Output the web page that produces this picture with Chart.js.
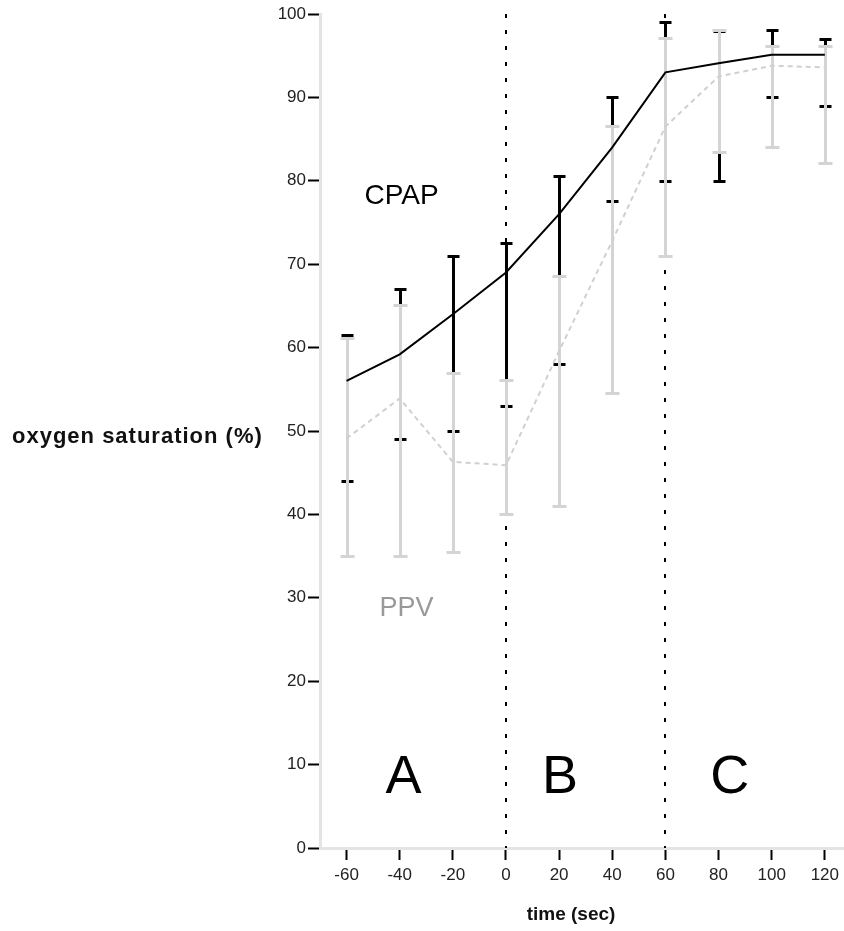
<!DOCTYPE html>
<html>
<head>
<meta charset="utf-8">
<script src="https://cdn.jsdelivr.net/npm/chart.js@4.4.0/dist/chart.umd.min.js"></script>
<style>
  html, body { margin: 0; padding: 0; background: #fff; }
  #wrap { width: 844px; height: 931px; position: relative; }
</style>
</head>
<body>
<div id="wrap"><canvas id="sat"></canvas></div>
<script>
// time points (sec) and tick labels
let times = [-60, -40, -20, 0, 20, 40, 60, 80, 100, 120]
let xTicks = [-60, -40, -20, 0, 20, 40, 60, 80, 100, 120]
let yTicks = [0, 10, 20, 30, 40, 50, 60, 70, 80, 90, 100]
let phaseMarks = [0, 60]

// CPAP (black)
let cpapMean = [56, 59.2, 64, 69, 76, 84, 93, 94.1, 95.1, 95.1]
let cpapLow = [44, 49, 50, 53, 58, 77.6, 80, 80, 90, 89]
let cpapHigh = [61.5, 67, 71, 72.5, 80.6, 90, 99, 98, 98.1, 97]

// PPV (grey)
let ppvMean = [49.1, 53.9, 46.3, 45.9, 59.6, 72.8, 86.5, 92.5, 93.8, 93.6]
let ppvLow = [35, 35, 35.5, 40.1, 41, 54.6, 71, 83.5, 84.1, 82.1]
let ppvHigh = [61.1, 65.1, 57, 56.1, 68.6, 86.6, 97.1, 98.1, 96.2, 96.2]

const FONT = "'Liberation Sans', Arial, sans-serif"
const GREY = '#d4d4d4'

const pts = (vals) => times.map((t, i) => ({ x: t, y: vals[i] }))

// dotted phase lines + error bars, under the mean lines
const errorBars = {
    id: 'errorBars',
    beforeDatasetsDraw(chart) {
        const { ctx, scales: { x, y } } = chart
        ctx.save()
        ctx.strokeStyle = '#000'
        ctx.lineWidth = 2
        ctx.setLineDash([4, 12])
        phaseMarks.forEach(v => {
            const px = Math.round(x.getPixelForValue(v))
            ctx.beginPath()
            ctx.moveTo(px, y.getPixelForValue(100))
            ctx.lineTo(px, y.getPixelForValue(0))
            ctx.stroke()
        })
        ctx.setLineDash([])

        const bars = (low, high, color, cap) => {
            ctx.strokeStyle = color
            ctx.lineWidth = 3
            times.forEach((t, i) => {
                const px = Math.round(x.getPixelForValue(t)) + 0.5
                const lo = Math.round(y.getPixelForValue(low[i])) + 0.5
                const hi = Math.round(y.getPixelForValue(high[i])) + 0.5
                ctx.beginPath()
                ctx.moveTo(px, lo)
                ctx.lineTo(px, hi)
                ctx.moveTo(px - cap / 2, lo)
                ctx.lineTo(px + cap / 2, lo)
                ctx.moveTo(px - cap / 2, hi)
                ctx.lineTo(px + cap / 2, hi)
                ctx.stroke()
            })
        }
        bars(cpapLow, cpapHigh, '#000', 12)
        bars(ppvLow, ppvHigh, GREY, 14)
        ctx.restore()
    }
}

// group labels, phase letters and axis titles
const labels = {
    id: 'labels',
    afterDraw(chart) {
        const { ctx, chartArea, scales: { x, y } } = chart
        ctx.save()
        ctx.textAlign = 'center'
        ctx.textBaseline = 'middle'

        ctx.font = '28px ' + FONT
        ctx.fillStyle = '#000'
        ctx.fillText('CPAP', x.getPixelForValue(-39.3), y.getPixelForValue(78.2))
        ctx.font = '27px ' + FONT
        ctx.fillStyle = '#999'
        ctx.fillText('PPV', x.getPixelForValue(-37.4), y.getPixelForValue(28.7))

        ctx.font = '54px ' + FONT
        ctx.fillStyle = '#000'
        ctx.fillText('A', x.getPixelForValue(-38.6), y.getPixelForValue(8.4))
        ctx.fillText('B', x.getPixelForValue(20.3), y.getPixelForValue(8.4))
        ctx.fillText('C', x.getPixelForValue(84.2), y.getPixelForValue(8.4))

        ctx.fillStyle = '#111'
        ctx.font = 'bold 22px ' + FONT
        ctx.letterSpacing = '1px'
        ctx.textAlign = 'left'
        ctx.fillText('oxygen saturation (%)', 12, (chartArea.top + chartArea.bottom) / 2 + 6)
        ctx.font = 'bold 19px ' + FONT
        ctx.letterSpacing = '0px'
        ctx.textAlign = 'center'
        ctx.fillText('time (sec)', 571, 915)
        ctx.restore()
    }
}

const chart = new Chart(document.getElementById('sat'), {
    type: 'line',
    data: {
        datasets: [
            {
                label: 'CPAP',
                data: pts(cpapMean),
                borderColor: '#000',
                borderWidth: 2,
                pointRadius: 0,
                tension: 0
            },
            {
                label: 'PPV',
                data: pts(ppvMean),
                borderColor: '#d0d0d0',
                borderWidth: 2,
                borderDash: [5, 4],
                pointRadius: 0,
                tension: 0
            }
        ]
    },
    options: {
        responsive: true,
        maintainAspectRatio: false,
        animation: false,
        layout: { padding: { top: 14, right: 0, left: 0, bottom: 0 } },
        plugins: {
            legend: { display: false },
            tooltip: { enabled: false }
        },
        scales: {
            x: {
                type: 'linear',
                min: -70,
                max: 127,
                afterBuildTicks: axis => { axis.ticks = xTicks.map(v => ({ value: v })) },
                afterFit: axis => { axis.height = 83 },
                border: { color: '#e4e4e4', width: 3 },
                grid: { drawOnChartArea: false, drawTicks: true, tickLength: 12, tickColor: '#000', tickWidth: 2 },
                ticks: { font: { family: FONT, size: 17 }, color: '#222', padding: 5, maxRotation: 0 }
            },
            y: {
                type: 'linear',
                min: 0,
                max: 100,
                afterBuildTicks: axis => { axis.ticks = yTicks.map(v => ({ value: v })) },
                afterFit: axis => { axis.width = 320 },
                border: { color: '#e4e4e4', width: 3 },
                grid: { drawOnChartArea: false, drawTicks: true, tickLength: 12, tickColor: '#000', tickWidth: 2 },
                ticks: { font: { family: FONT, size: 17 }, color: '#222', padding: 2 }
            }
        }
    },
    plugins: [errorBars, labels]
});
</script>
</body>
</html>
